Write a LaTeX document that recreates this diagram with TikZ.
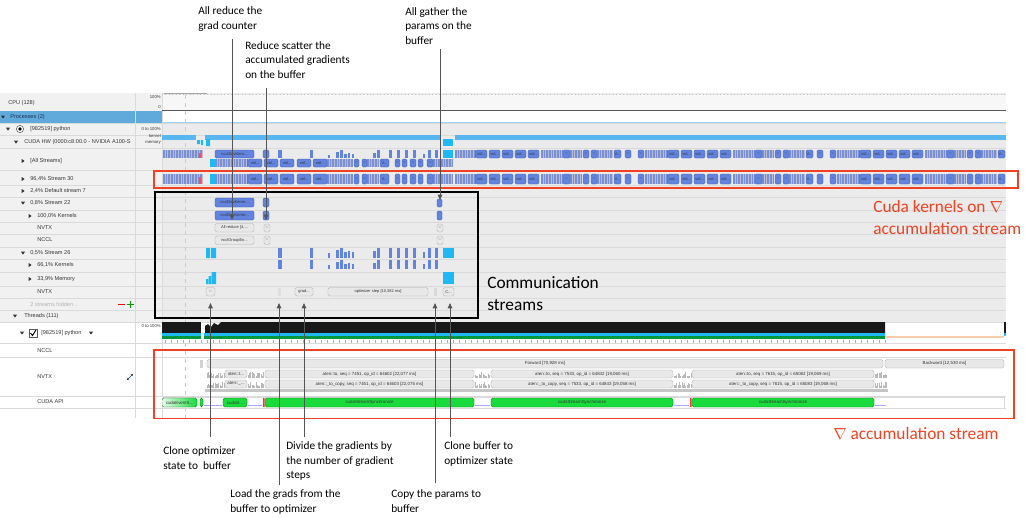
\documentclass[tikz,border=0pt]{standalone}
\usepackage{fontspec}
\setmainfont{Carlito}
\newfontfamily\uifont{Liberation Sans}
\usetikzlibrary{arrows.meta}

\definecolor{annred}{RGB}{240,65,35}
\definecolor{kblue}{RGB}{98,132,222}
\definecolor{kdark}{RGB}{60,90,175}
\definecolor{lblue}{RGB}{88,182,240}
\definecolor{kcyan}{RGB}{30,185,245}
\definecolor{stripbg}{RGB}{182,188,214}
\definecolor{stripln}{RGB}{122,142,210}
\definecolor{rowbg}{RGB}{235,235,235}
\definecolor{panelbg}{RGB}{241,241,241}
\definecolor{rowline}{RGB}{218,218,218}
\definecolor{procblue}{RGB}{95,170,218}
\definecolor{procnavy}{RGB}{30,50,90}
\definecolor{uitext}{RGB}{55,55,55}
\definecolor{apigreen}{RGB}{25,220,60}
\definecolor{linegray}{RGB}{85,85,85}
\definecolor{tickorange}{RGB}{240,170,40}
\definecolor{peach}{RGB}{250,205,170}
\definecolor{thrgreen}{RGB}{0,150,60}

\tikzset{
  annot/.style={draw=linegray, line width=0.75pt, -{Triangle[length=4pt,width=3.4pt]}},
  note/.style={font=\fontsize{8.5}{10.9}\selectfont, align=left, anchor=north west, inner sep=0pt},
  bignote/.style={font=\fontsize{13}{16.5}\selectfont, align=left, anchor=north west, inner sep=0pt},
  lbl/.style={font=\uifont\fontsize{4.2}{5}\selectfont, anchor=west, inner sep=0pt, text=uitext},
  lblr/.style={font=\uifont\fontsize{3.2}{4}\selectfont, anchor=east, inner sep=0pt, text=uitext},
  boxtxt/.style={font=\uifont\fontsize{3}{3.5}\selectfont, inner sep=0pt, text=black!80},
  nvtxt/.style={font=\uifont\fontsize{3.3}{4}\selectfont, inner sep=0pt, text=black!80},
  kern/.style={fill=kblue, draw=kdark, line width=0.3pt, rounded corners=1pt},
  nvbox/.style={fill=gray!18, draw=gray!65, line width=0.35pt, rounded corners=1.2pt},
  apibox/.style={fill=apigreen, draw=green!45!black, line width=0.35pt, rounded corners=1.2pt},
  redbox/.style={draw=annred, line width=1.1pt},
  blackbox/.style={draw=black, line width=1.4pt}
}

\newcommand{\tridown}[2]{\fill[uitext] (#1-2,#2-1.3) -- (#1+2,#2-1.3) -- (#1,#2+1.6) -- cycle;}
\newcommand{\triright}[2]{\fill[uitext] (#1-1.3,#2-2) -- (#1-1.3,#2+2) -- (#1+1.6,#2) -- cycle;}

\newcommand{\dstrip}[4]{%
  \fill[stripbg] (#1,#3) rectangle (#2,#4);
  \pgfmathsetmacro\dsa{#1}\pgfmathsetmacro\dsb{#2}\pgfmathsetmacro\dsn{#1+1.6}%
  \foreach \xx in {\dsa,\dsn,...,\dsb} \draw[stripln, line width=0.3pt] (\xx,#3) -- (\xx,#4);
}

\newcommand{\kperiod}[3]{%
  \foreach \i in {0,...,4}{%
    \pgfmathsetmacro\ka{#1+1+13*\i}\pgfmathsetmacro\kb{\ka+11}%
    \draw[kern] (\ka,#2) rectangle (\kb,#3) node[boxtxt,pos=.5] (vol\i) {vol...};}%
  \dstrip{#1+66}{#1+88}{#2}{#3}%
  \dstrip{#1+95}{#1+107}{#2}{#3}%
  \dstrip{#1+122}{#1+138}{#2}{#3}%
  \dstrip{#1+170}{#1+191}{#2}{#3}%
  \foreach \o/\w in {88/7,108/6,116/6,150/6,163/6}{%
    \pgfmathsetmacro\ka{#1+\o}\pgfmathsetmacro\kb{\ka+\w}%
    \draw[kern] (\ka,#2) rectangle (\kb,#3) node[boxtxt,pos=.5] (dash\o) {–};}%
  \pgfmathsetmacro\ka{#1+139}\pgfmathsetmacro\kb{\ka+7}%
  \draw[kern] (\ka,#2) rectangle (\kb,#3) node[boxtxt,pos=.5] (vee) {V...};
  \draw[green!80!black, line width=0.6pt] (#1,#2) -- (#1,#3);
}

\newcommand{\earlyrun}[2]{%
  \fill[kcyan] (210,#1) rectangle (215,#2);
  \dstrip{215}{247}{#1}{#2}%
  \dstrip{327}{353}{#1}{#2}%
  \dstrip{367}{379}{#1}{#2}%
  \dstrip{433}{453}{#1}{#2}%
  \foreach \xa/\xb in {248/262,264/278,280/294,297/311,313/327}
    \draw[kern] (\xa,#1) rectangle (\xb,#2) node[boxtxt,pos=.5] (evol\xa) {vol...};
  \foreach \xa/\xb in {354/359,362/367,395/400,402/407,410/416,418/423,427/433}
    \draw[kern] (\xa,#1) rectangle (\xb,#2) node[boxtxt,pos=.5] (edash\xa) {–};
  \draw[kern] (380,#1) rectangle (389,#2) node[boxtxt,pos=.5] (evee) {V...};
  \draw[green!80!black, line width=0.6pt] (247.5,#1) -- (247.5,#2);
}

\newcommand{\spark}[3]{%
  \pgfmathsetmacro\spa{#1}\pgfmathsetmacro\spb{#2}\pgfmathsetmacro\spn{#1+1.3}%
  \foreach \xx in {\spa,\spn,...,\spb}{\pgfmathsetmacro\hh{1.5+5*rnd}\draw[gray!55, line width=0.4pt] (\xx,#3) -- ++(0,-\hh);}
}

\def\sbars{278/282/0, 310/313/0, 328/330/5, 336/339/2, 340/343/0, 344/347/4, 348/350/3, 352/354/4, 373/376/3, 377/380/0, 389/392/0, 397/400/0, 405/408/0, 413/416/0, 423/425/4, 428/431/0, 435/438/0}

\begin{document}
\begin{tikzpicture}[x=0.75pt,y=-0.75pt]
\pgfmathsetseed{11}
\useasboundingbox (0,0) rectangle (1026,518);

\fill[rowbg] (0,93) rectangle (1006,322);
\fill[panelbg] (0,93) rectangle (162,322);
\fill[white] (0,322) rectangle (1006,418);
\fill[gray!6] (162,95) rectangle (1006,111);
\fill[procblue] (0,111) rectangle (162,123);
\fill[white] (162,111) rectangle (1006,122);
\draw[lblue!60, line width=0.8pt] (162,122.5) -- (1006,122.5);
\foreach \yy in {123,135,148,170,185,197,210,222,234,247,259,272,286,298,310,322,343,357,396,408}
  \draw[rowline, line width=0.3pt] (0,\yy) -- (1006,\yy);
\draw[rowline, line width=0.4pt] (135,93) -- (135,418);
\draw[rowline, line width=0.4pt] (162,93) -- (162,418);
\draw[gray!40, dashed, line width=0.3pt] (185,95) -- (185,418);
\draw[gray!50, dotted, line width=0.6pt] (162,94) -- (1006,94);
\draw[gray!70, line width=0.8pt] (164,93.5) -- (207,93.5);
\draw[gray!70!black, line width=0.8pt] (162,110.5) -- (1006,110.5);

\begin{scope}
\clip (0,93) rectangle (135,418);
\node[lbl] (lCpu) at (8,103) {CPU (128)};
\tridown{3}{117}
\node[lbl, text=procnavy] (lProc) at (10,117) {Processes (2)};
\tridown{8}{129}
\draw[gray!70!black, fill=white, line width=0.4pt] (20,129) circle (3.6);
\fill[black] (20,129) circle (1.8);
\node[lbl] (lPy) at (30,129) {[982519] python};
\tridown{16}{142}
\node[lbl] (lHw) at (24,142) {CUDA HW (0000:c8:00.0 - NVIDIA A100-S};
\triright{23}{161}
\node[lbl] (lAll) at (30,161) {[All Streams]};
\triright{23}{179}
\node[lbl] (l30) at (30,179) {96,4\% Stream 30};
\triright{23}{191}
\node[lbl] (lDef) at (30,191) {2,4\% Default stream 7};
\tridown{23}{203}
\node[lbl] (l22) at (30,203) {0,8\% Stream 22};
\triright{30}{216}
\node[lbl] (l22k) at (37,216) {100,0\% Kernels};
\node[lbl] (l22n) at (37,228) {NVTX};
\node[lbl] (l22c) at (37,240) {NCCL};
\tridown{23}{253}
\node[lbl] (l26) at (30,253) {0,5\% Stream 26};
\triright{30}{265}
\node[lbl] (l26k) at (37,265) {66,1\% Kernels};
\triright{30}{279}
\node[lbl] (l26m) at (37,279) {33,9\% Memory};
\node[lbl] (l26n) at (37,292) {NVTX};
\node[lbl, text=gray!60] (lHid) at (30,304) {2 streams hidden...};
\draw[red, line width=0.6pt] (118,304) -- (125,304);
\draw[green!60!black, line width=0.6pt] (127,304) -- (134,304) (130.5,300.5) -- (130.5,307.5);
\tridown{15}{316}
\node[lbl] (lThr) at (24,316) {Threads (111)};
\tridown{22}{333}
\draw[gray!70!black, fill=white, line width=0.4pt] (29,329) rectangle (37,337);
\draw[black, line width=0.7pt] (30.5,333) -- (32.5,335.5) -- (36,330);
\node[lbl] (lTpy) at (41,333) {[982519] python};
\tridown{91}{333}
\node[lbl] (lTnccl) at (37,351) {NCCL};
\node[lbl] (lTnvtx) at (37,377) {NVTX};
\node[lbl] (lTapi) at (37,402) {CUDA API};
\draw[procnavy, line width=0.5pt, {Triangle[length=1.5pt,width=1.5pt]}-{Triangle[length=1.5pt,width=1.5pt]}] (127,380) -- (133,374);
\end{scope}

\node[lblr] (cHund) at (161,97) {100\%};
\node[lblr] (cZero) at (161,107) {0};
\node[lblr] (cPy) at (161,129) {0 to 100\%};
\node[lblr] (cKer) at (161,135.5) {kernel};
\node[lblr] (cMem) at (161,142.5) {memory};
\node[lblr] (cThr) at (161,326) {0 to 100\%};

\begin{scope}
\clip (162,93) rectangle (1006,418);
\fill[lblue] (162,135) rectangle (196,140);
\fill[lblue] (205,135) rectangle (440,140);
\fill[lblue] (455,135) rectangle (1006,140);
\fill[kcyan] (197,140) rectangle (200,144) (201,140) rectangle (203,145) (206,139) rectangle (210,146);
\fill[kcyan] (443,139) rectangle (453,146);

\dstrip{163}{203}{150}{158}
\fill[red!70] (199,153) rectangle (201,158);
\draw[kern] (215,150) rectangle (254,158) node[boxtxt,pos=.5] (aKern) {ncclDevKern...};
\draw[kern] (263,150) rectangle (269,158);
\foreach \xa/\xb/\dy in \sbars \fill[kblue] (\xa,150+\dy) rectangle (\xb,158);
\fill[kcyan] (443,150) rectangle (453,158);
\dstrip{455}{475}{150}{158}
\foreach \p in {475,667,859} {\kperiod{\p}{150}{158}}
\earlyrun{159}{167}

\dstrip{163}{203}{174}{184}
\fill[red!70] (199,177) rectangle (201,184);
\earlyrun{174}{184}
\dstrip{455}{475}{174}{184}
\foreach \p in {475,667,859} {\kperiod{\p}{174}{184}}

\draw[kern] (215,198) rectangle (254,207) node[boxtxt,pos=.5] (k22a) {ncclDevKerne...};
\draw[kern] (263,198) rectangle (269,207);
\draw[kern] (437,199) rectangle (442,207);
\draw[kern] (215,211) rectangle (254,220) node[boxtxt,pos=.5] (k22b) {ncclDevKerne...};
\draw[kern] (263,211) rectangle (269,220);
\draw[kern] (437,211) rectangle (442,220);
\draw[nvbox] (215,223.5) rectangle (254,232) node[boxtxt,pos=.5] (n22a) {All reduce [4,...};
\draw[nvbox] (264,224) rectangle (270,232) node[boxtxt,pos=.5] (n22b) {–};
\draw[nvbox] (437,224) rectangle (443,232) node[boxtxt,pos=.5] (n22c) {–};
\draw[nvbox] (215,236) rectangle (254,244.5) node[boxtxt,pos=.5] (c22a) {ncclGroupEn...};
\draw[nvbox] (264,236) rectangle (270,244.5) node[boxtxt,pos=.5] (c22b) {–};
\draw[nvbox] (437,236) rectangle (443,244.5) node[boxtxt,pos=.5] (c22c) {–};

\fill[kcyan] (206,248) rectangle (210,258) (211,248) rectangle (216,258);
\foreach \xa/\xb/\dy in \sbars \fill[kblue] (\xa,248+\dy) rectangle (\xb,258);
\fill[kcyan] (443,248) rectangle (454,258);
\foreach \xa/\xb/\dy in \sbars \fill[kblue] (\xa,260+\dy) rectangle (\xb,269);
\fill[kcyan] (206,279) rectangle (208,284) (208.5,276) rectangle (211,284) (211.5,272) rectangle (216,284);
\fill[kcyan] (443,272) rectangle (454,284);
\draw[nvbox] (206,287.5) rectangle (215,296) node[boxtxt,pos=.5] (n26a) {–};
\fill[gray!25] (278,288) rectangle (281,296);
\draw[nvbox] (295,287.5) rectangle (313,296) node[boxtxt,pos=.5] (n26b) {grad...};
\draw[nvbox] (328,287.5) rectangle (428,296) node[boxtxt,pos=.5] (n26c) {optimizer step [10,382 ms]};
\fill[gray!30] (434,288) rectangle (437,296);
\draw[nvbox] (443,287.5) rectangle (454,296) node[boxtxt,pos=.5] (n26d) {C...};

\fill[black!90] (162,322) rectangle (201,333);
\fill[black!90] (205,333) -- (205,326) -- (208,324) -- (211,327) -- (214,323) -- (218,325) -- (221,322) -- (885,322) -- (885,333) -- cycle;
\fill[kcyan] (162,333) rectangle (885,336);
\fill[thrgreen] (162,336) rectangle (885,339);
\fill[white] (201,333) rectangle (204,339);
\fill[peach] (885,335.5) rectangle (1004,337.5);
\fill[black!90] (1004,322) rectangle (1006,333);
\fill[kcyan] (1004,333) rectangle (1006,336);
\foreach \xx in {165,171,...,885} \draw[tickorange, line width=0.5pt] (\xx,340) -- (\xx,343);

\fill[gray!35] (200,360) rectangle (203,368);
\draw[nvbox] (207,359.5) rectangle (883,368) node[nvtxt,pos=.5] (fwd) {Forward [70,928 ms]};
\draw[nvbox] (885,359.5) rectangle (1004,368) node[nvtxt,pos=.5] (bwd) {Backward [12,530 ms]};
\foreach \yb in {378,388} {
  \spark{207}{224}{\yb}
  \spark{248}{264}{\yb}
  \spark{475}{490}{\yb}
  \spark{674}{691}{\yb}
  \spark{875}{887}{\yb}
}
\draw[nvbox] (225,370) rectangle (247,378) node[nvtxt,pos=.5] (at1) {aten::t...};
\draw[nvbox] (265,370) rectangle (474,378) node[nvtxt,pos=.5] (at2) {aten::to, seq = 7451, op\_id = 64602 [22,077 ms]};
\draw[nvbox] (491,370) rectangle (673,378) node[nvtxt,pos=.5] (at3) {aten::to, seq = 7533, op\_id = 64842 [19,060 ms]};
\draw[nvbox] (692,370) rectangle (874,378) node[nvtxt,pos=.5] (at4) {aten::to, seq = 7615, op\_id = 65082 [19,069 ms]};
\draw[nvbox] (225,380) rectangle (247,388) node[nvtxt,pos=.5] (ac1) {aten::\_...};
\draw[nvbox] (265,380) rectangle (474,388) node[nvtxt,pos=.5] (ac2) {aten::\_to\_copy, seq = 7451, op\_id = 64603 [22,075 ms]};
\draw[nvbox] (491,380) rectangle (673,388) node[nvtxt,pos=.5] (ac3) {aten::\_to\_copy, seq = 7533, op\_id = 64843 [19,058 ms]};
\draw[nvbox] (692,380) rectangle (874,388) node[nvtxt,pos=.5] (ac4) {aten::\_to\_copy, seq = 7615, op\_id = 65083 [19,068 ms]};
\fill[gray!45] (205,389) rectangle (888,392);

\draw[rowline, fill=white, line width=0.4pt] (162,397) rectangle (1004,408);
\draw[draw=green!45!black, line width=0.35pt, rounded corners=1.2pt, left color=apigreen!10, right color=apigreen] (162,398) rectangle (197,407);
\node[nvtxt] (api1) at (179.5,402.5) {cudaEventS...};
\draw[apibox] (200,398) rectangle (203,407);
\draw[apibox] (223,398) rectangle (247,407) node[nvtxt,pos=.5] (api2) {cudaS...};
\draw[apibox] (265,398) rectangle (474,407) node[nvtxt,pos=.5] (api3) {cudaStreamSynchronize};
\draw[apibox] (491,398) rectangle (673,407) node[nvtxt,pos=.5] (api4) {cudaStreamSynchronize};
\draw[apibox] (692,398) rectangle (874,407) node[nvtxt,pos=.5] (api5) {cudaStreamSynchronize};
\fill[red!80] (263,398) rectangle (264.5,407) (690,398) rectangle (691.5,407);
\foreach \xa/\xb in {204/222,248/262,475/490,674/689,875/886}
  \draw[blue!35, line width=0.25pt] (\xa,405.5) -- (\xb,405.5);
\end{scope}

\draw[redbox] (154,171) rectangle (1018,188);
\draw[blackbox] (155,192) rectangle (478,318);
\draw[redbox] (154,350) rectangle (1014,418.5);

\node[note] (tArGrad) at (198,6.5) {All reduce the\\grad counter};
\node[note] (tRedSc) at (245,41) {Reduce scatter the\\accumulated gradients\\on the buffer};
\node[note] (tAllGa) at (405,7) {All gather the\\params on the\\buffer};
\node[note] (tCloneOpt) at (163,446.5) {Clone optimizer\\state to\ \ buffer};
\node[note] (tLoad) at (230,489.5) {Load the grads from the\\buffer to optimizer};
\node[note] (tDivide) at (286,441.5) {Divide the gradients by\\the number of gradient\\steps};
\node[note] (tCopy) at (391,489.5) {Copy the params to\\buffer};
\node[note] (tCloneBuf) at (444,441.5) {Clone buffer to\\optimizer state};
\node[bignote] (tComm) at (487,276) {Communication\\streams};
\node[bignote, text=annred] (tCudaK) at (873,200) {Cuda kernels on $\nabla$\\accumulation stream};
\node[bignote, text=annred] (tAccum) at (833,427) {$\nabla$ accumulation stream};

\coordinate (pArGrad) at (232,220);
\coordinate (pRedSc) at (266,220);
\coordinate (pAllGa) at (440,200);
\coordinate (pCloneOpt) at (210.5,303);
\coordinate (pLoad) at (279,303);
\coordinate (pDivide) at (304,303);
\coordinate (pCopy) at (435,303);
\coordinate (pCloneBuf) at (450,303);

\draw[annot] (tArGrad.south -| pArGrad) ++(0,8) -- (pArGrad);
\draw[annot] (tRedSc.south -| pRedSc) ++(0,9) -- (pRedSc);
\draw[annot] (tAllGa.south -| pAllGa) ++(0,4) -- (pAllGa);
\draw[annot] (tCloneOpt.north -| pCloneOpt) ++(0,-10) -- (pCloneOpt);
\draw[annot] (tLoad.north -| pLoad) ++(0,-5) -- (pLoad);
\draw[annot] (tDivide.north -| pDivide) ++(0,-5) -- (pDivide);
\draw[annot] (tCopy.north -| pCopy) ++(0,-7) -- (pCopy);
\draw[annot] (tCloneBuf.north -| pCloneBuf) ++(0,-5) -- (pCloneBuf);
\end{tikzpicture}
\end{document}
